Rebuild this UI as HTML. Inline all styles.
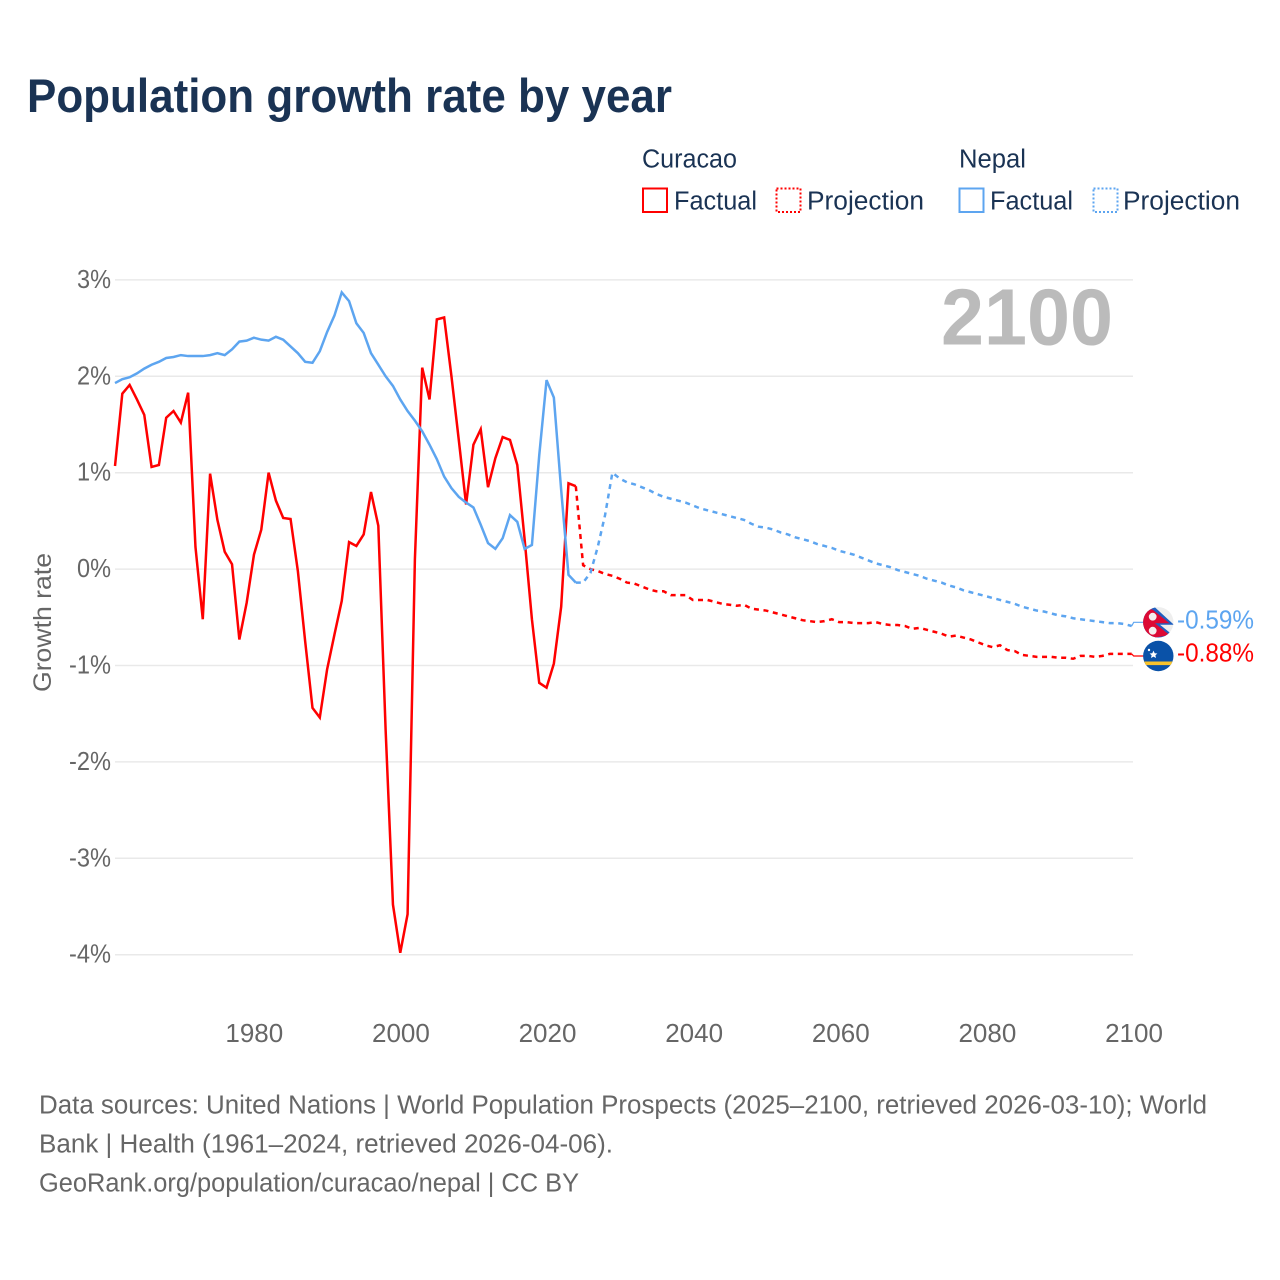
<!DOCTYPE html>
<html lang="en">
<head>
<meta charset="utf-8">
<title>Population growth rate by year</title>
<style>
  html, body { margin: 0; padding: 0; background: #fff; }
  svg { display: block; }
  text { font-family: "Liberation Sans", sans-serif; }
</style>
</head>
<body>
<svg id="chart" xmlns="http://www.w3.org/2000/svg" width="1280" height="1280" viewBox="0 0 1280 1280">
  <rect x="0" y="0" width="1280" height="1280" fill="#ffffff"/>
  <text x="27" y="112" font-size="47" font-weight="700" fill="#1a3354" textLength="645" lengthAdjust="spacingAndGlyphs">Population growth rate by year</text>

  <g font-size="25.5" fill="#1a3354">
    <text x="642" y="167.5" textLength="95" lengthAdjust="spacingAndGlyphs">Curacao</text>
    <text x="959" y="167.5" textLength="67" lengthAdjust="spacingAndGlyphs">Nepal</text>
    <rect x="643" y="188.5" width="24" height="23.5" fill="none" stroke="#ff0000" stroke-width="2"/>
    <text x="674" y="209.5" textLength="83" lengthAdjust="spacingAndGlyphs">Factual</text>
    <rect x="776.5" y="188.5" width="24" height="23.5" fill="none" stroke="#ff0000" stroke-width="2" stroke-dasharray="2 2"/>
    <text x="807" y="209.5" textLength="117" lengthAdjust="spacingAndGlyphs">Projection</text>
    <rect x="959.5" y="188.5" width="24" height="23.5" fill="none" stroke="#5da5f0" stroke-width="2"/>
    <text x="990" y="209.5" textLength="83" lengthAdjust="spacingAndGlyphs">Factual</text>
    <rect x="1093.5" y="188.5" width="24" height="23.5" fill="none" stroke="#5da5f0" stroke-width="2" stroke-dasharray="2 2"/>
    <text x="1123" y="209.5" textLength="117" lengthAdjust="spacingAndGlyphs">Projection</text>
  </g>

  <g id="grid"></g>
  <g id="yLabels"></g>
  <g id="xLabels"></g>

  <text transform="translate(51 692) rotate(-90)" x="0" y="0" font-size="25" fill="#666666" textLength="139" lengthAdjust="spacingAndGlyphs">Growth rate</text>
  <text x="941" y="344.5" font-size="80" font-weight="700" fill="#bbbbbb" textLength="172" lengthAdjust="spacingAndGlyphs">2100</text>

  <g id="series"></g>

  <defs>
    <clipPath id="flagNepalClip"><circle cx="1158.3" cy="622.3" r="15.2"/></clipPath>
    <clipPath id="flagCuracaoClip"><circle cx="1158.3" cy="656" r="15.2"/></clipPath>
  </defs>

  <g clip-path="url(#flagNepalClip)">
    <rect x="1142" y="606" width="32" height="33" fill="#eeeeee"/>
    <polygon points="1154,606.5 1174,624.8 1160,624.8 1174,636 1142,641 1142,606.5" fill="#1f5fc0"/>
    <polygon points="1152.5,609.5 1169.5,623.3 1155,623.3 1169.5,635 1142,640 1142,609.5" fill="#dc0a35"/>
    <circle cx="1152.7" cy="616.7" r="3.9" fill="#f4efef"/>
    <circle cx="1152.7" cy="630.7" r="3.9" fill="#f4efef"/>
  </g>
  <g clip-path="url(#flagCuracaoClip)">
    <rect x="1142" y="640" width="32" height="33" fill="#0a52a8"/>
    <rect x="1142" y="661.5" width="32" height="3.6" fill="#f8c32c"/>
    <polygon points="1153.5,650.6 1154.7,653.2 1157.4,653.5 1155.4,655.3 1156,658 1153.5,656.6 1151,658 1151.6,655.3 1149.6,653.5 1152.3,653.2" fill="#ffffff"/>
    <circle cx="1149" cy="650" r="1.2" fill="#ffffff"/>
  </g>

  <text x="1177" y="628.5" font-size="25.5" fill="#5da5f0" textLength="77" lengthAdjust="spacingAndGlyphs">-0.59%</text>
  <text x="1177" y="661.5" font-size="25.5" fill="#ff0000" textLength="77" lengthAdjust="spacingAndGlyphs">-0.88%</text>

  <g font-size="25.5" fill="#666666">
    <text x="39" y="1113.5" textLength="1168" lengthAdjust="spacingAndGlyphs">Data sources: United Nations | World Population Prospects (2025–2100, retrieved 2026-03-10); World</text>
    <text x="39" y="1152.5" textLength="574" lengthAdjust="spacingAndGlyphs">Bank | Health (1961–2024, retrieved 2026-04-06).</text>
    <text x="39" y="1191.5" textLength="540" lengthAdjust="spacingAndGlyphs">GeoRank.org/population/curacao/nepal | CC BY</text>
  </g>
</svg>

<script>
// ---- chart data (growth rate, % per year) ----
const firstFactualYear = 1961;
const firstProjectionYear = 2025;

const curacaoFactual = [
  1.07, 1.82, 1.91, 1.76, 1.60, 1.06, 1.08, 1.57, 1.64, 1.52,
  1.83, 0.23, -0.52, 0.99, 0.51, 0.18, 0.05, -0.73, -0.35, 0.15,
  0.41, 1.00, 0.71, 0.53, 0.52, -0.02, -0.75, -1.44, -1.54, -1.04,
  -0.68, -0.33, 0.28, 0.24, 0.36, 0.80, 0.45, -1.67, -3.48, -3.98,
  -3.58, 0.10, 2.09, 1.76, 2.59, 2.61, 2.00, 1.34, 0.67, 1.29,
  1.45, 0.85, 1.15, 1.37, 1.34, 1.08, 0.31, -0.52, -1.18, -1.23,
  -0.98, -0.39, 0.89, 0.86
];

const nepalFactual = [
  1.93, 1.97, 1.99, 2.03, 2.08, 2.12, 2.15, 2.19, 2.20, 2.22,
  2.21, 2.21, 2.21, 2.22, 2.24, 2.22, 2.28, 2.36, 2.37, 2.40,
  2.38, 2.37, 2.41, 2.38, 2.31, 2.24, 2.15, 2.14, 2.26, 2.46,
  2.63, 2.87, 2.78, 2.55, 2.45, 2.24, 2.12, 2.00, 1.90, 1.76,
  1.64, 1.54, 1.43, 1.29, 1.14, 0.96, 0.84, 0.75, 0.69, 0.64,
  0.46, 0.27, 0.21, 0.32, 0.56, 0.49, 0.21, 0.25, 1.18, 1.96,
  1.78, 0.82, -0.06, -0.14
];

const curacaoProjection = [
  0.04, 0.00, -0.02, -0.05, -0.07, -0.10, -0.14, -0.15, -0.18, -0.21,
  -0.23, -0.23, -0.27, -0.27, -0.27, -0.32, -0.32, -0.32, -0.34, -0.36,
  -0.37, -0.38, -0.37, -0.41, -0.42, -0.43, -0.45, -0.47, -0.49, -0.51,
  -0.53, -0.54, -0.55, -0.54, -0.52, -0.55, -0.55, -0.56, -0.56, -0.56,
  -0.55, -0.57, -0.58, -0.58, -0.59, -0.62, -0.61, -0.63, -0.65, -0.67,
  -0.70, -0.69, -0.71, -0.73, -0.76, -0.79, -0.81, -0.79, -0.84, -0.85,
  -0.89, -0.90, -0.91, -0.91, -0.91, -0.92, -0.92, -0.93, -0.90, -0.90,
  -0.91, -0.90, -0.88, -0.88, -0.88, -0.88
];

const nepalProjection = [
  -0.14, -0.04, 0.23, 0.56, 1.00, 0.94, 0.90, 0.88, 0.85, 0.82,
  0.78, 0.75, 0.73, 0.71, 0.69, 0.66, 0.63, 0.61, 0.59, 0.57,
  0.55, 0.53, 0.51, 0.47, 0.44, 0.43, 0.41, 0.38, 0.36, 0.33,
  0.31, 0.29, 0.26, 0.24, 0.22, 0.19, 0.17, 0.15, 0.12, 0.09,
  0.06, 0.04, 0.02, -0.01, -0.03, -0.05, -0.07, -0.10, -0.12, -0.14,
  -0.17, -0.19, -0.22, -0.24, -0.26, -0.28, -0.30, -0.32, -0.34, -0.36,
  -0.39, -0.41, -0.43, -0.44, -0.46, -0.48, -0.49, -0.51, -0.52, -0.53,
  -0.54, -0.55, -0.56, -0.56, -0.57, -0.59
];

const yTickValues = [3, 2, 1, 0, -1, -2, -3, -4];
const yTickLabels = ['3%', '2%', '1%', '0%', '-1%', '-2%', '-3%', '-4%'];
const xTickValues = [1980, 2000, 2020, 2040, 2060, 2080, 2100];
const xTickLabels = ['1980', '2000', '2020', '2040', '2060', '2080', '2100'];

// ---- axis functions ----
const dataAxis = { y0: 1961, y1: 2100, p0: 115, p1: 1131.7 };
const tickAxis = { y0: 1961, y1: 2100, p0: 115, p1: 1134 };
const yAxis = { zero: 569.1, perUnit: 96.4 };
function xScale(year) {
  return dataAxis.p0 + (year - dataAxis.y0) * (dataAxis.p1 - dataAxis.p0) / (dataAxis.y1 - dataAxis.y0);
}
function xTickScale(year) {
  return tickAxis.p0 + (year - tickAxis.y0) * (tickAxis.p1 - tickAxis.p0) / (tickAxis.y1 - tickAxis.y0);
}
function yScale(value) {
  return yAxis.zero - value * yAxis.perUnit;
}

const NS = 'http://www.w3.org/2000/svg';
function pathFrom(values, startYear) {
  return values.map(function (v, i) {
    return (i ? 'L' : 'M') + xScale(startYear + i).toFixed(2) + ' ' + yScale(v).toFixed(2);
  }).join(' ');
}

// ---- gridlines and y tick labels ----
const gridGroup = document.getElementById('grid');
const yLabelGroup = document.getElementById('yLabels');
yTickValues.forEach(function (v, i) {
  const line = document.createElementNS(NS, 'line');
  
  
  line.setAttribute('x1', 115);
  line.setAttribute('x2', 1133);
  line.setAttribute('y1', yScale(v));
  line.setAttribute('y2', yScale(v));
  line.setAttribute('stroke', '#e9e9e9');
  line.setAttribute('stroke-width', '1.5');
  gridGroup.appendChild(line);

  const label = document.createElementNS(NS, 'text');
  
  
  label.setAttribute('x', 111);
  label.setAttribute('y', yScale(v) + 8);
  label.setAttribute('text-anchor', 'end');
  label.setAttribute('font-size', '26');
  label.setAttribute('fill', '#666666');
  label.setAttribute('textLength', yTickLabels[i].length === 3 ? 42 : 34);
  label.setAttribute('lengthAdjust', 'spacingAndGlyphs');
  label.textContent = yTickLabels[i];
  yLabelGroup.appendChild(label);
});

// ---- x tick labels ----
const xLabelGroup = document.getElementById('xLabels');
xTickValues.forEach(function (v, i) {
  const label = document.createElementNS(NS, 'text');
  
  
  label.setAttribute('x', xTickScale(v));
  label.setAttribute('y', 1042);
  label.setAttribute('text-anchor', 'middle');
  label.setAttribute('font-size', '26');
  label.setAttribute('fill', '#666666');
  label.textContent = xTickLabels[i];
  xLabelGroup.appendChild(label);
});

// ---- series ----
const seriesGroup = document.getElementById('series');
const lastFactualYear = firstProjectionYear - 1;

const curacaoFactualPath = document.createElementNS(NS, 'path');


curacaoFactualPath.setAttribute('d', pathFrom(curacaoFactual, firstFactualYear));
curacaoFactualPath.setAttribute('fill', 'none');
curacaoFactualPath.setAttribute('stroke', '#ff0000');
curacaoFactualPath.setAttribute('stroke-width', '2.5');
curacaoFactualPath.setAttribute('stroke-linejoin', 'miter');
seriesGroup.appendChild(curacaoFactualPath);

const nepalFactualPath = document.createElementNS(NS, 'path');


nepalFactualPath.setAttribute('d', pathFrom(nepalFactual, firstFactualYear));
nepalFactualPath.setAttribute('fill', 'none');
nepalFactualPath.setAttribute('stroke', '#5da5f0');
nepalFactualPath.setAttribute('stroke-width', '2.5');
seriesGroup.appendChild(nepalFactualPath);

const curacaoProjectionPath = document.createElementNS(NS, 'path');


curacaoProjectionPath.setAttribute('d', pathFrom([curacaoFactual[curacaoFactual.length - 1]].concat(curacaoProjection), lastFactualYear));
curacaoProjectionPath.setAttribute('fill', 'none');
curacaoProjectionPath.setAttribute('stroke', '#ff0000');
curacaoProjectionPath.setAttribute('stroke-width', '2.5');
curacaoProjectionPath.setAttribute('stroke-dasharray', '5 4.6');
seriesGroup.appendChild(curacaoProjectionPath);

const nepalProjectionPath = document.createElementNS(NS, 'path');


nepalProjectionPath.setAttribute('d', pathFrom([nepalFactual[nepalFactual.length - 1]].concat(nepalProjection), lastFactualYear));
nepalProjectionPath.setAttribute('fill', 'none');
nepalProjectionPath.setAttribute('stroke', '#5da5f0');
nepalProjectionPath.setAttribute('stroke-width', '2.5');
nepalProjectionPath.setAttribute('stroke-dasharray', '5 4.6');
seriesGroup.appendChild(nepalProjectionPath);

// ---- leader lines from the last point to the flag icons ----
const nepalLeader = document.createElementNS(NS, 'path');


nepalLeader.setAttribute('d', 'M' + xScale(2100) + ' ' + yScale(nepalProjection[nepalProjection.length - 1]) + ' L' + (xScale(2100) + 2) + ' 622.3 L1144 622.3');
nepalLeader.setAttribute('fill', 'none');
nepalLeader.setAttribute('stroke', '#5da5f0');
nepalLeader.setAttribute('stroke-width', '1.2');
seriesGroup.appendChild(nepalLeader);

const curacaoLeader = document.createElementNS(NS, 'path');


curacaoLeader.setAttribute('d', 'M' + xScale(2100) + ' ' + yScale(curacaoProjection[curacaoProjection.length - 1]) + ' L' + (xScale(2100) + 2) + ' 656 L1144 656');
curacaoLeader.setAttribute('fill', 'none');
curacaoLeader.setAttribute('stroke', '#ff0000');
curacaoLeader.setAttribute('stroke-width', '1.2');
seriesGroup.appendChild(curacaoLeader);
</script>
</body>
</html>
